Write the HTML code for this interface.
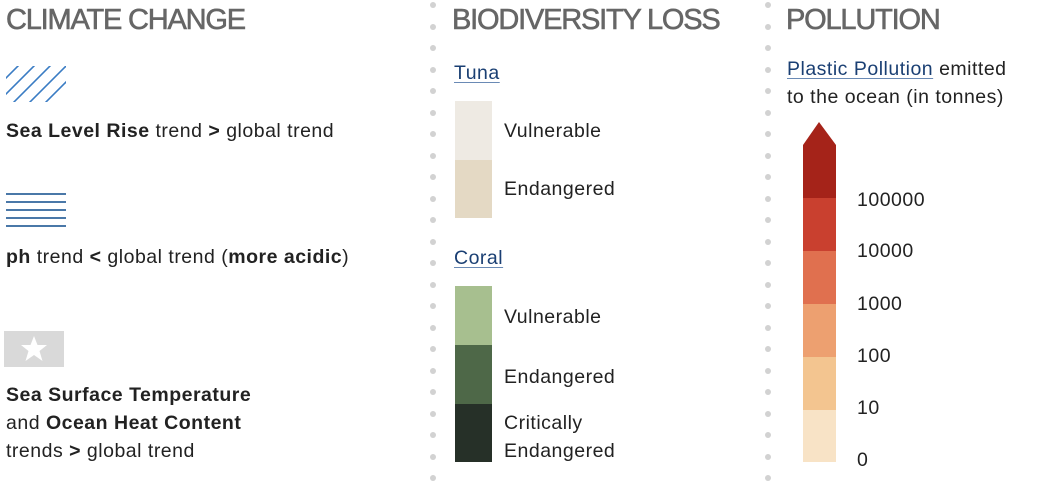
<!DOCTYPE html>
<html><head><meta charset="utf-8"><style>
body{margin:0;width:1046px;height:484px;background:#fff;position:relative;overflow:hidden;font-family:"Liberation Sans",sans-serif;color:#222}
.a{position:absolute;white-space:nowrap}
.h{font-size:29px;color:#666;letter-spacing:-1.2px;-webkit-text-stroke:0.6px #666}
.t{font-size:19.5px;line-height:28px;letter-spacing:0.5px}
.l{color:#1a3f73;text-decoration:underline;text-decoration-color:#6a8ab5;text-underline-offset:3px}
.dot{position:absolute;width:6px;height:6px;border-radius:3px;background:#d2d2d2}
</style></head><body>
<div class="a h" style="left:6px;top:4px">CLIMATE CHANGE</div>
<div class="a h" style="left:452px;top:4px">BIODIVERSITY LOSS</div>
<div class="a h" style="left:786px;top:4px">POLLUTION</div>

<svg class="a" style="left:6px;top:64px" width="62" height="40">
<defs><clipPath id="c"><rect x="0" y="2" width="60" height="36"/></clipPath></defs>
<g clip-path="url(#c)" stroke="#3a7cc4" stroke-width="1.6">
<line x1="-10" y1="40" x2="30" y2="0"/><line x1="6" y1="40" x2="46" y2="0"/><line x1="22" y1="40" x2="62" y2="0"/><line x1="38" y1="40" x2="78" y2="0"/><line x1="-26" y1="40" x2="14" y2="0"/></g></svg>
<div class="a t" style="left:6px;top:117px"><b>Sea Level Rise</b> trend <b>&gt;</b> global trend</div>

<svg class="a" style="left:6px;top:190px" width="62" height="40" stroke="#4a78a8" stroke-width="2">
<line x1="0" y1="4" x2="60" y2="4"/><line x1="0" y1="12" x2="60" y2="12"/><line x1="0" y1="20" x2="60" y2="20"/><line x1="0" y1="28" x2="60" y2="28"/><line x1="0" y1="36" x2="60" y2="36"/></svg>
<div class="a t" style="left:6px;top:243px"><b>ph</b> trend <b>&lt;</b> global trend (<b>more acidic</b>)</div>

<svg class="a" style="left:4px;top:331px" width="60" height="36"><rect width="60" height="36" fill="#d9d9d9"/>
<polygon points="30,5 33.5,14 43,14 35.5,20 38.5,30 30,24 21.5,30 24.5,20 17,14 26.5,14" fill="#fff"/></svg>
<div class="a t" style="left:6px;top:381px"><b>Sea Surface Temperature</b><br>and <b>Ocean Heat Content</b><br>trends <b>&gt;</b> global trend</div>

<div class="a t l" style="left:454px;top:59px">Tuna</div>
<div class="a" style="left:455px;top:101px;width:37px;height:59px;background:#eeeae3"></div>
<div class="a" style="left:455px;top:160px;width:37px;height:58px;background:#e4d9c4"></div>
<div class="a t" style="left:504px;top:117px">Vulnerable</div>
<div class="a t" style="left:504px;top:175px">Endangered</div>

<div class="a t l" style="left:454px;top:244px">Coral</div>
<div class="a" style="left:455px;top:286px;width:37px;height:59px;background:#a7bf8f"></div>
<div class="a" style="left:455px;top:345px;width:37px;height:59px;background:#4e6848"></div>
<div class="a" style="left:455px;top:404px;width:37px;height:58px;background:#263028"></div>
<div class="a t" style="left:504px;top:303px">Vulnerable</div>
<div class="a t" style="left:504px;top:363px">Endangered</div>
<div class="a t" style="left:504px;top:409px">Critically<br>Endangered</div>

<div class="a t" style="left:787px;top:55px"><span class="l">Plastic Pollution</span> emitted<br>to the ocean (in tonnes)</div>
<svg class="a" style="left:802px;top:121px" width="36" height="345">
<polygon points="1,24 17,1 34,24" fill="#a52319"/>
<rect x="1" y="24" width="33" height="53" fill="#a52319"/>
<rect x="1" y="77" width="33" height="53" fill="#c9402f"/>
<rect x="1" y="130" width="33" height="53" fill="#e0704f"/>
<rect x="1" y="183" width="33" height="53" fill="#eda070"/>
<rect x="1" y="236" width="33" height="53" fill="#f3c590"/>
<rect x="1" y="289" width="33" height="52" fill="#f8e3c6"/></svg>
<div class="a t" style="left:857px;top:186px">100000</div>
<div class="a t" style="left:857px;top:237px">10000</div>
<div class="a t" style="left:857px;top:290px">1000</div>
<div class="a t" style="left:857px;top:342px">100</div>
<div class="a t" style="left:857px;top:394px">10</div>
<div class="a t" style="left:857px;top:446px">0</div>

<div id="dots"></div>
<script>
var h='';for(var y=2;y<480;y+=21.5){h+='<div class="dot" style="left:430px;top:'+y+'px"></div><div class="dot" style="left:765px;top:'+y+'px"></div>';}
document.getElementById('dots').innerHTML=h;
</script>
</body></html>
